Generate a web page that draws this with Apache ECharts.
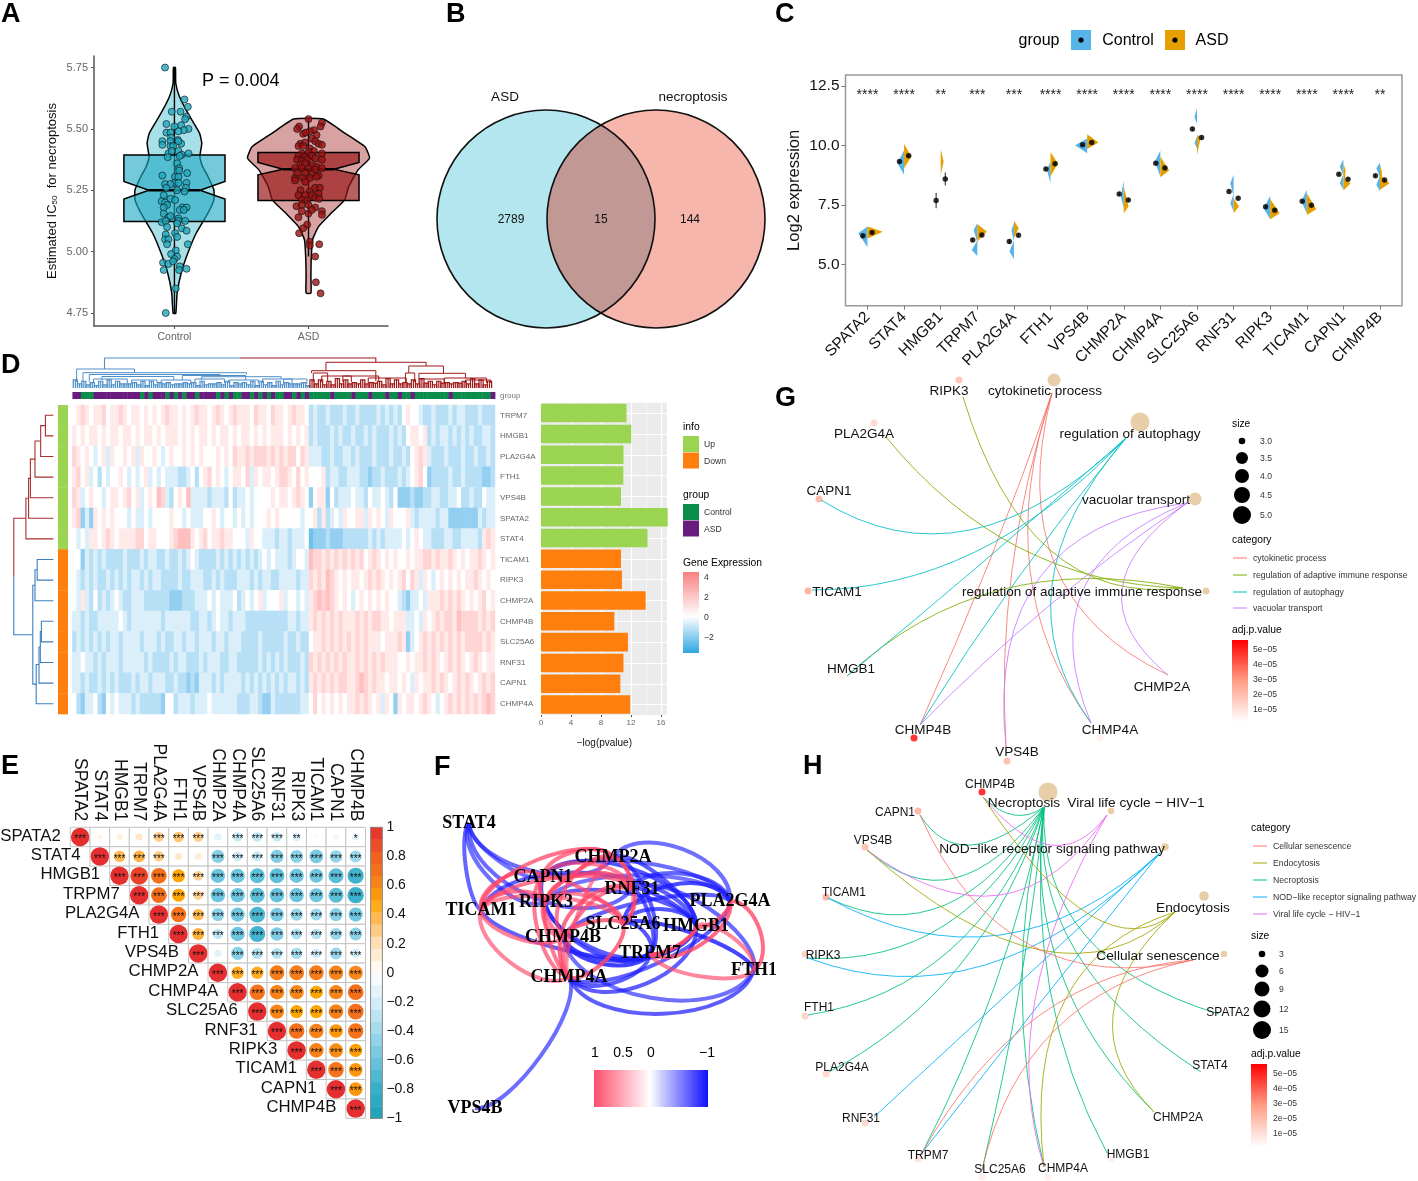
<!DOCTYPE html>
<html><head><meta charset="utf-8">
<style>html,body{margin:0;padding:0;background:#fff}#c{width:1418px;height:1181px}</style>
<script src="https://cdn.jsdelivr.net/npm/echarts@6/dist/echarts.min.js"></script>
</head><body><div id="c"></div>
<script>
// ---------- DATA ----------
const groups = ["Control","ASD"];
const icTicks = [4.75,5,5.25,5.5,5.75];
const controlProfile = [[5.75,.0075],[5.686,.01],[5.632,.037],[5.564,.1],[5.483,.187],[5.442,.204],[5.387,.19],[5.347,.21],[5.306,.25],[5.252,.294],[5.211,.294],[5.157,.25],[5.075,.162],[4.994,.1],[4.912,.05],[4.831,.02],[4.749,.01]];
const asdProfile = [[5.54,.11],[5.483,.27],[5.428,.42],[5.381,.455],[5.333,.37],[5.265,.3],[5.211,.27],[5.157,.17],[5.102,.075],[5.048,.03],[4.966,.02],[4.899,.018],[4.831,.018]];
const controlBox = [5.123,5.214,5.25,5.286,5.394];
const asdBox = [5.208,5.313,5.336,5.363,5.404];
const controlPoints = [[-.07,5.75],[.075,5.62],[.10,5.59],[-.02,5.57],[.045,5.57],[.09,5.55],[.08,5.54],[-.06,5.52],[.05,5.515],[0,5.51],[.105,5.50],[.07,5.495],[.03,5.49],[-.06,5.485],[-.03,5.485],[-.09,5.45],[-.025,5.465],[-.03,5.45],[.025,5.455],[-.09,5.435],[-.03,5.43],[-.01,5.43],[.05,5.44],[.03,5.45],[-.045,5.40],[.03,5.41],[.055,5.395],[.105,5.40],[-.02,5.41],[-.05,5.385],[.04,5.39],[.02,5.36],[.035,5.34],[.035,5.33],[-.09,5.31],[.095,5.32],[.005,5.305],[.03,5.305],[0,5.28],[.03,5.28],[.09,5.28],[-.07,5.275],[-.03,5.275],[.085,5.26],[-.06,5.26],[.02,5.25],[.075,5.245],[-.08,5.23],[-.03,5.215],[.005,5.21],[-.095,5.205],[-.07,5.20],[-.055,5.19],[-.08,5.18],[-.08,5.155],[.06,5.18],[.09,5.18],[.04,5.17],[.07,5.17],[-.045,5.14],[-.03,5.145],[.03,5.135],[-.095,5.12],[-.065,5.125],[.03,5.125],[.08,5.125],[-.055,5.10],[.02,5.115],[.055,5.095],[.09,5.085],[.005,5.075],[-.065,5.07],[-.07,5.05],[-.045,5.05],[.02,5.06],[-.055,5.03],[.10,5.03],[.01,5.005],[-.025,4.99],[.02,4.98],[0,4.97],[-.085,4.955],[-.045,4.95],[-.01,4.96],[-.08,4.925],[.04,4.94],[.09,4.93],[.035,4.925],[.01,4.85],[-.065,4.75]];
const asdPoints = [[0,5.54],[-.07,5.51],[-.085,5.50],[.10,5.525],[.09,5.51],[.04,5.495],[.01,5.49],[-.04,5.48],[-.02,5.485],[.06,5.475],[.025,5.46],[-.06,5.44],[-.025,5.445],[.05,5.45],[.075,5.44],[.10,5.435],[-.075,5.43],[-.04,5.43],[.01,5.42],[.04,5.41],[-.05,5.40],[0,5.405],[-.075,5.39],[-.03,5.385],[.025,5.39],[.10,5.40],[-.085,5.375],[-.05,5.37],[-.01,5.375],[.05,5.38],[.10,5.375],[-.06,5.355],[-.025,5.36],[.025,5.35],[.06,5.345],[-.10,5.34],[-.05,5.34],[0,5.34],[.05,5.335],[.10,5.34],[-.085,5.32],[-.025,5.32],[.025,5.315],[.075,5.31],[-.10,5.30],[-.04,5.30],[.01,5.30],[.06,5.305],[-.10,5.29],[-.025,5.285],[-.06,5.25],[.01,5.245],[.05,5.26],[.085,5.26],[-.075,5.23],[-.025,5.23],[.025,5.23],[.075,5.235],[-.05,5.21],[-.01,5.21],[.05,5.22],[.08,5.215],[-.09,5.185],[-.05,5.19],[0,5.19],[.05,5.18],[.10,5.165],[-.075,5.14],[0,5.155],[-.05,5.165],[.025,5.17],[.10,5.15],[-.01,5.11],[-.04,5.095],[-.07,5.075],[.01,5.04],[.01,5.025],[.08,5.03],[.05,4.98],[.055,4.875],[.09,4.83]];

const vennSets = ["ASD","necroptosis"];
const vennCounts = [2789,15,144];

const genes = ["SPATA2","STAT4","HMGB1","TRPM7","PLA2G4A","FTH1","VPS4B","CHMP2A","CHMP4A","SLC25A6","RNF31","RIPK3","TICAM1","CAPN1","CHMP4B"];
const exprTicks = [5,7.5,10,12.5];
const sigLabels = ["****","****","**","***","***","****","****","****","****","****","****","****","****","****","**"];
const exprControl = [6.21,9.33,7.69,6.04,5.97,9.02,10.03,7.97,9.26,10.69,8.07,7.43,7.66,8.8,8.73];
const exprASD = [6.35,9.57,8.6,6.25,6.24,9.24,10.13,7.72,9.06,10.34,7.79,7.29,7.5,8.59,8.55];
const exprErrControl = [.06,.06,.32,.07,.08,.07,.04,.08,.06,.08,.08,.07,.07,.07,.07];
const exprErrASD = [.06,.06,.27,.07,.08,.06,.04,.07,.06,.08,.07,.06,.06,.06,.06];
const violinControl = [
 [[6.6,0],[6.32,.25],[5.73,0]],[[9.8,0],[9.26,.18],[8.77,0]],[],
 [[6.74,0],[6.46,.1],[6.0,.01],[5.62,.15],[5.37,0]],[[6.74,0],[6.46,.07],[6.0,.005],[5.55,.12],[5.23,0]],
 [[9.33,0],[8.98,.1],[8.42,0]],[[10.3,0],[10.01,.33],[9.68,0]],[[8.53,0],[7.86,.08],[7.37,0]],
 [[9.78,0],[9.33,.15],[8.7,0]],[[11.57,0],[11.2,.07],[10.9,0],[10.38,0],[10.1,.07],[9.9,0]],
 [[8.77,0],[8.42,.09],[7.93,.01],[7.58,.09],[7.23,0]],[[7.89,0],[7.37,.18],[6.91,0]],[[8.14,0],[7.65,.15],[7.16,0]],
 [[9.43,0],[9.12,.1],[8.77,.01],[8.42,.1],[8.14,0]],[[9.29,0],[9.05,.1],[8.7,.01],[8.35,.1],[8.07,0]]];
const violinASD = [
 [[6.6,0],[6.38,.42],[6.1,0]],[[10.07,0],[9.54,.2],[9.05,0]],[[9.85,0],[9.33,.08],[8.77,0]],
 [[6.71,0],[6.39,.26],[6.0,.01],[5.62,0]],[[6.85,0],[6.53,.13],[6.11,0]],
 [[9.72,0],[9.26,.2],[8.7,0]],[[10.47,0],[10.13,.31],[9.85,0]],[[8.28,0],[7.44,.13],[7.16,0]],
 [[9.54,0],[8.95,.24],[8.67,0]],[[10.45,0],[10.31,.1],[9.6,0]],[[7.79,0],[7.44,.15],[7.16,0]],
 [[7.76,0],[7.16,.26],[6.91,0]],[[8.0,0],[7.33,.26],[7.09,0]],[[9.26,0],[8.95,.06],[8.56,.04],[8.42,.2],[8.11,0]],[[9.19,0],[8.9,.05],[8.7,.05],[8.42,.26],[8.14,0]]];

const rowGenes = ["TRPM7","HMGB1","PLA2G4A","FTH1","VPS4B","SPATA2","STAT4","TICAM1","RIPK3","CHMP2A","CHMP4B","SLC25A6","RNF31","CAPN1","CHMP4A"];
const rowInfo = "uuuuuuudddddddd";
const pvalueBars = [11.4,12.04,11.0,10.98,10.67,16.9,14.2,10.67,10.8,13.96,9.78,11.6,11.0,10.58,11.9];
// heatmap: one digit per sample column, 4 = 0 expression, lower = blue, higher = red
const heatRows = [
"4565455645 5654554545 4565545456 5545654565 5546554655 456554 2322322232 2322223232 32 4544 32232223 23322232 22",
"5454554545 5455454554 5455545454 5545455454 5545454555 454545 2322232322 3223232223 232 45545 2323323232 322332",
"6545434535 4454535445 4345445454 5444545465 5656665656 566465 3332232233 2322232223 2232 4565 3222322232 232232",
"5645342434 4543434534 3433322342 4564543455 4635455456 654645 4445233223 3322122322 2323 4564 1222232232 222112",
"6534544345 5456453454 7632454733 3323332423 3434444545 545654 1455142333 4332433432 4111 2112 2332233422 322433",
"5613154545 4443433434 4445443433 3445434434 3434445454 444434 4525234354 4553545435 4445 3233 3323311111 113233",
"4343554565 4555566455 4445677754 5645565544 4354433323 323334 0111211122 2222323233 3343 4543 3222332233 332565",
"4413232322 2232223233 2232232343 2222323232 3232343433 323443 7665656565 6564565454 5445 4556 6565565454 556545",
"4323232232 3232332323 3222232233 3223232223 3323233223 333233 6565765454 5545656545 4564 6535 4345454545 565454",
"4353242323 4322333222 2221112223 3343433342 3434534445 344343 5676765454 3454545454 4321 3343 5556565654 545645",
"3323223333 3432333333 3233333322 3323433233 3222222222 233233 5656565655 5656566554 5553 3435 4565665766 665656",
"2323232323 3233332333 2322332332 3332332333 2222322222 322322 4556565656 5656555455 5651 3456 5656565656 666565",
"3343323233 3233333232 2223233222 3233322332 2222323232 322232 6565656565 5656565655 5445 4556 5654565654 565455",
"3323223232 3222323323 3322322121 3332323333 2323232323 233232 5656565665 5676565545 5454 3545 5656545656 545656",
"4213342143 4333232222 2144233323 3343333332 2233211322 222233 4645454545 5656545354 1545 5456 5434565656 565676"];
const groupStrip = "ppgggppppp ppppppgpgp ppgpgpgppg ppppgpgpgg ppgpgpgpgg ppgpgp gggggpgggg pgggpgggpg gpggpggggg gggpgggggg gggp";
const leafHeights = "6554435464 5535445354 4544354543 5435445345 4453544354 453543 6564547565 4565465475 6545657654 5645465575 6454";
// top dendrogram merges: colA, colB, height, lowA, lowB
const topBlue = [[1,14.7,19,6,15.3],[2.5,41.2,15.3,7,13.5],[4,35,13.5,6,11.5],[7,24,11.5,8,8],[26,41,12.5,8,8],[30.6,49.4,11.3,8,9],[5,13,9,5,5],[14,20,8,5,5],[21,28,8,5,5],[29,36,9,5,5],[37,44,8,5,5],[45,52,9,5,5],[50,55.5,9,4,4]];
const topRed = [[60,83.7,25.7,18,22],[56.6,71.8,17.3,15,7],[79.6,87.8,22,15,14.7],[78.8,81,15,6,6],[82,93,14.7,9,10],[57,60.4,15,6,6],[59,66,12,6,6],[64,72.5,12,6,6],[70,79,10,5,6],[82,88,9,5,5],[88,98,10,5,5],[93,99,8,5,5]];
// left dendrogram merges: height, rowA, rowB, lowA, lowB
const leftRed = [[8,0,1,0,0],[12.7,.5,2,8,0],[18.4,1.25,3,12.7,0],[23,2.125,4,18.4,0],[24.8,3.06,5,23,0],[27.5,4.03,6,24.8,0]];
const leftBlue = [[16.2,7,8,0,0],[18.4,7.5,9,16.2,0],[12,10,11,0,0],[13.1,10.5,12,12,0],[14.4,11.25,13,13.1,0],[17.2,12.1,14,14.4,0],[20.6,8.25,13.05,18.4,17.2]];
const leftRoot = [39.6,5.0,10.65,27.5,20.6];

const corrRows = [
[1,.08,.1,.15,.28,.32,.28,-.15,-.26,-.27,-.26,-.2,-.05,-.08,-.14],
[1,.38,.4,.3,.15,.12,-.5,-.25,-.27,-.52,-.48,-.55,-.46,-.42],
[1,.92,.72,.5,.27,-.6,-.6,-.65,-.65,-.6,-.58,-.66,-.76],
[1,.72,.5,.27,-.6,-.6,-.65,-.62,-.6,-.58,-.66,-.78],
[1,.7,.38,-.48,-.58,-.72,-.55,-.45,-.42,-.5,-.58],
[1,.42,-.3,-.6,-.75,-.52,-.35,-.33,-.43,-.48],
[1,-.15,-.5,-.35,-.33,-.38,-.25,-.42,-.23],
[1,.45,.45,.65,.65,.65,.62,.6],
[1,.7,.62,.6,.5,.6,.72],
[1,.6,.5,.5,.62,.72],
[1,.72,.62,.55,.7],
[1,.62,.58,.52],
[1,.7,.55],
[1,.55],
[1]];
const corrStarExceptions = {"0-1":"","0-2":"","0-3":"","0-7":"","0-12":"","0-13":"","0-11":"**","0-14":"*","1-5":"","1-6":"","6-7":""};

const netNames = ["STAT4","CHMP2A","CAPN1","RNF31","PLA2G4A","TICAM1","RIPK3","SLC25A6","HMGB1","CHMP4B","TRPM7","CHMP4A","FTH1","VPS4B"];
const netX = [469,613,543,632,730,481,546,623,696,563,650,569,754,475];
const netY = [823,857,877,889,901,910,902,924,926,937,953,977,970,1108];
const netThreshold = .45;

// enrichment networks: name, dotX, dotY, labelX, labelY, adj.p (1e-5), endX, endY
const gGenes = [["RIPK3",959,380,949,390,2.0,963,397],["PLA2G4A",874,423,864,433,1.3,886,437],["CAPN1",819,499,829,490,2.4,821,500],["TICAM1",808,591,837,591,2.6,812,590],["HMGB1",842,676,851,668,.5,847,676],["CHMP4B",914,738,923,729,5.5,920,725],["VPS4B",1007,761,1017,751,2.2,1006,747],["CHMP4A",1100,738,1110,729,.5,1091,723],["CHMP2A",1170,675,1162,686,0,1168,675]];
// name, dotX, dotY, labelX, labelY, size, endX, endY
const gTerms = [["cytokinetic process",1054,380,1045,390,4,1052,393],["regulation of adaptive immune response",1206,591,1082,591,3,1183,588],["regulation of autophagy",1140,422,1130,433,5,1126,438],["vacuolar transport",1195,499,1136,499,4,1187,503]];
const gEdges = [[0,5,990,560],[0,6,1012,570],[0,7,1030,570],[0,8,1055,565],[1,0,1050,550],[1,1,1020,548],[1,4,1000,590],[2,2,970,530],[2,3,975,552],[2,4,983,562],[2,5,1018,578],[2,7,1052,585],[3,6,1040,577],[3,5,1050,605],[3,7,1083,590],[3,8,1122,590]];
const hGenes = [["CHMP4B",982,792,990,784,5.5,983,797],["CAPN1",918,811,895,812,2.4,920,815],["VPS4B",865,847,873,840,2.2,867,850],["TICAM1",826,897,844,892,2.6,828,898],["RIPK3",805,954,823,955,1.6,808,958],["FTH1",805,1016,819,1007,1.5,808,1015],["PLA2G4A",826,1074,842,1067,1.3,829,1072],["RNF31",865,1123,861,1118,1.4,874,1117],["TRPM7",918,1159,928,1155,1,922,1153],["SLC25A6",982,1177,1000,1169,.6,982,1170],["CHMP4A",1048,1177,1063,1168,.5,1044,1167],["HMGB1",1111,1159,1128,1154,.5,1107,1153],["CHMP2A",1154,1112,1178,1117,0,1154,1112],["STAT4",1201,1072,1210,1065,0,1201,1072],["SPATA2",1219,1014,1228,1012,0,1219,1014]];
const hTerms = [["Necroptosis",1048,792,1024,802,15,1044,807],["Viral life cycle \u2212 HIV\u22121",1111,811,1136,802,3,1107,815],["NOD\u2212like receptor signaling pathway",1165,847,1052,848,4,1160,853],["Endocytosis",1204,896,1193,907,6,1175,912],["Cellular senescence",1224,954,1158,955,3,1193,960]];
const hEdges = [[0,0,1014,815],[0,1,971,845],[0,2,955,878],[0,3,945,905],[0,4,945,925],[0,5,950,950],[0,6,960,965],[0,8,995,985],[0,9,1020,985],[0,10,1022,985],[0,11,1050,990],[0,12,1060,970],[0,13,1075,950],[0,14,1085,935],
[2,3,1000,935],[2,4,985,965],[2,7,1017,985],[2,8,1040,1003],[1,0,1050,845],[1,2,1000,895],[1,10,1035,1000],
[3,0,1090,915],[3,2,1040,950],[3,10,1065,1000],[3,12,1113,1015],[4,1,1030,945],[4,8,1040,1015],[4,9,1055,1030]];
const gTermColors = ["#F8766D","#7CAE00","#00BFC4","#C77CFF"];
const hTermColors = ["#00BF7D","#E76BF3","#00B0F6","#A3A500","#F8766D"];

// ---------- HELPERS ----------
const SANS = '"Liberation Sans",Arial,sans-serif', SERIF = '"Liberation Serif","Times New Roman",serif';
const grids=[], xAxes=[], yAxes=[], series=[], gfx=[];
const hidden=(min,max,inverse)=>({type:'value',min,max,inverse:!!inverse,show:false});
function addGrid(left,top,width,height,xa,ya,extra){
  const gridIndex=grids.length;
  grids.push(Object.assign({left,top,width,height,containLabel:false},extra||{}));
  xa.gridIndex=gridIndex; ya.gridIndex=gridIndex; xAxes.push(xa); yAxes.push(ya);
  return gridIndex;
}
function custom(g,items,draw,z){
  series.push({type:'custom',coordinateSystem:'cartesian2d',xAxisIndex:g,yAxisIndex:g,clip:false,silent:true,z:z||2,
    animation:false,progressive:0,data:items.map((_,i)=>[i,0]),
    renderItem:(p,api)=>draw(items[p.dataIndex],p.dataIndex,v=>api.coord(v),api)});
}
const clean=s=>s.replace(/\s+/g,'');
function lerpColor(stops,t){
  t=Math.max(stops[0][0],Math.min(stops[stops.length-1][0],t));
  for(let i=1;i<stops.length;i++){ if(t<=stops[i][0]){
    const a=stops[i-1],b=stops[i],u=(t-a[0])/(b[0]-a[0]);
    const ha=parseInt(a[1].slice(1),16),hb=parseInt(b[1].slice(1),16);
    const ch=s=>Math.round(((ha>>s)&255)*(1-u)+((hb>>s)&255)*u);
    return 'rgb('+ch(16)+','+ch(8)+','+ch(0)+')';
  }}
  return stops[stops.length-1][1];
}
const txt=(text,x,y,size,o)=>{o=o||{};gfx.push({type:'text',silent:true,z:100,
  style:{text,x,y:y+1,fontSize:size,fontFamily:o.family||SANS,fontWeight:o.weight||'normal',fill:o.color||'#000',align:o.align||'left',verticalAlign:'middle'}});};
const rect=(x,y,w,h,fill)=>gfx.push({type:'rect',silent:true,z:99,shape:{x,y,width:w,height:h},style:{fill}});
const dot=(x,y,r,fill)=>gfx.push({type:'circle',silent:true,z:100,shape:{cx:x,cy:y,r},style:{fill}});
const seg=(x1,y1,x2,y2,c,w)=>gfx.push({type:'line',silent:true,z:99,shape:{x1,y1,x2,y2},style:{stroke:c,lineWidth:w||1}});
const grad=(x0,y0,x1,y1,st)=>new echarts.graphic.LinearGradient(x0,y0,x1,y1,st.map(s=>({offset:s[0],color:s[1]})));

// layout grid for node-link panels and the Venn diagram (layout units, no axis)
const L=addGrid(0,0,1418,1181,hidden(0,1418),hidden(0,1181,true));

// ---------- PANEL LETTERS ----------
[["A",1,14],["B",446,14],["C",775,14],["D",1,365],["E",1,766],["F",434,767],["G",775,398],["H",803,766]].forEach(a=>txt(a[0],a[1],a[2],27,{weight:'bold'}));

// ---------- PANEL A ----------
const axisA={color:'#555',width:1.5};
const A=addGrid(94,56,294,270,
 {type:'value',min:.4,max:2.593,splitLine:{show:false},axisLine:{show:true,onZero:false,lineStyle:axisA},
  axisTick:{show:true,customValues:[1,2],lineStyle:{color:'#555'},length:3},
  axisLabel:{customValues:[1,2],formatter:v=>groups[v-1],fontSize:10.5,color:'#666',fontFamily:SANS,margin:6}},
 {type:'value',min:4.697,max:5.797,splitLine:{show:false},axisLine:{show:true,onZero:false,lineStyle:axisA},
  axisTick:{show:true,customValues:icTicks,lineStyle:{color:'#555'},length:3},
  axisLabel:{customValues:icTicks,formatter:v=>v.toFixed(2),fontSize:11,color:'#666',fontFamily:SANS,margin:6},
  name:'{a|Estimated IC}{s|50}{a|  for necroptosis}',nameLocation:'middle',nameRotate:90,nameGap:35,
  nameTextStyle:{rich:{a:{fontSize:13,fontFamily:SANS,color:'#111'},s:{fontSize:8,fontFamily:SANS,color:'#111',verticalAlign:'bottom',padding:[0,0,0,0]}}}});
custom(A,[{c:1,p:controlProfile,fill:'#A8E0E9'},{c:2,p:asdProfile,fill:'#D9A2A2'}],(it,i,co)=>{
  const pts=it.p.map(q=>co([it.c+q[1],q[0]])).concat(it.p.slice().reverse().map(q=>co([it.c-q[1],q[0]])));
  return {type:'polygon',shape:{points:pts,smooth:.15},style:{fill:it.fill,stroke:'#000',lineWidth:1.5}};
},2);
custom(A,[{c:1,b:controlBox,fill:'rgba(30,170,195,.62)'},{c:2,b:asdBox,fill:'rgba(150,20,20,.68)'}],(it,i,co)=>{
  const [q1,nl,m,nh,q3]=it.b,c=it.c,w=.377,n=.19;
  const poly=[[c-w,q3],[c+w,q3],[c+w,nh],[c+n,m],[c+w,nl],[c+w,q1],[c-w,q1],[c-w,nl],[c-n,m],[c-w,nh]].map(co);
  const a=co([c-n,m]),b=co([c+n,m]);
  const top=co([c,it.c===1?5.75:5.54]),bot=co([c,it.c===1?4.75:4.98]);
  return {type:'group',children:[
    {type:'line',shape:{x1:top[0],y1:top[1],x2:bot[0],y2:bot[1]},style:{stroke:'#000',lineWidth:1.4}},
    {type:'polygon',shape:{points:poly},style:{fill:it.fill,stroke:'#000',lineWidth:1.5}},
    {type:'line',shape:{x1:a[0],y1:a[1],x2:b[0],y2:b[1]},style:{stroke:'#000',lineWidth:2.5}}]};
},3);
const pointStyle=c=>({color:c,borderColor:'#111',borderWidth:.8});
series.push({type:'scatter',xAxisIndex:A,yAxisIndex:A,z:5,symbolSize:7,silent:true,itemStyle:pointStyle('#1FA8BE'),data:controlPoints.map(p=>[1+p[0],p[1]])});
series.push({type:'scatter',xAxisIndex:A,yAxisIndex:A,z:5,symbolSize:7,silent:true,itemStyle:pointStyle('#9B1010'),data:asdPoints.map(p=>[2+p[0],p[1]])});
txt("P = 0.004",202,80,18);

// ---------- PANEL B ----------
custom(L,[{c:[546,219],f:'#B3E6EE'},{c:[656,219],f:'#F6B6AC'}],(it,i,co)=>{
  const a=co(it.c),r=109;return {type:'circle',shape:{cx:a[0],cy:a[1],r},style:{fill:it.f}};
},2);
custom(L,[0],(it,i,co)=>{
  const a=co([546,219]),b=co([656,219]),r=109,d=(b[0]-a[0])/2,ang=Math.acos(d/r),pts=[];
  for(let k=0;k<=40;k++){const t=-ang+2*ang*k/40;pts.push([a[0]+r*Math.cos(t),a[1]+r*Math.sin(t)]);}
  for(let k=0;k<=40;k++){const t=Math.PI-ang+2*ang*k/40;pts.push([b[0]+r*Math.cos(t),b[1]+r*Math.sin(t)]);}
  return {type:'polygon',shape:{points:pts},style:{fill:'#C19893'}};
},3);
custom(L,[[546,219],[656,219]],(it,i,co)=>{const a=co(it);return {type:'circle',shape:{cx:a[0],cy:a[1],r:109},style:{fill:'none',stroke:'#111',lineWidth:1.6}};},4);
custom(L,[[505,97],[693,97]],(it,i,co)=>{const a=co(it);return {type:'text',style:{text:vennSets[i],x:a[0],y:a[1],fontSize:13.5,fontFamily:SANS,fill:'#111',align:'center',verticalAlign:'middle'}};},5);
custom(L,[[511,220],[601,220],[690,220]],(it,i,co)=>{const a=co(it);return {type:'text',style:{text:String(vennCounts[i]),x:a[0],y:a[1],fontSize:12,fontFamily:SANS,fill:'#111',align:'center',verticalAlign:'middle'}};},5);

// ---------- PANEL C ----------
const geneTicks=genes.map((_,i)=>i+1);
const C=addGrid(845.5,75,556.5,230.7,
 {type:'value',min:.4,max:15.6,splitLine:{show:false},axisLine:{show:false},
  axisTick:{show:true,customValues:geneTicks,lineStyle:{color:'#777'},length:4},
  axisLabel:{customValues:geneTicks,formatter:v=>genes[v-1],rotate:45,fontSize:15.5,color:'#111',fontFamily:SANS,margin:9}},
 {type:'value',min:3.28,max:12.96,splitLine:{show:false},axisLine:{show:false},
  axisTick:{show:true,customValues:exprTicks,lineStyle:{color:'#777'},length:4},
  axisLabel:{customValues:exprTicks,formatter:v=>v.toFixed(1),fontSize:15.5,color:'#111',fontFamily:SANS,margin:6},
  name:'Log2 expression',nameLocation:'middle',nameRotate:90,nameGap:43,nameTextStyle:{fontSize:16.5,fontFamily:SANS,color:'#111'}},
 {show:true,borderColor:'#999',borderWidth:1.5,backgroundColor:'#fff'});
const halves=[];
genes.forEach((g,i)=>{ if(violinControl[i].length) halves.push({x:i+1,s:-1,p:violinControl[i],f:'#56B4E9'}); halves.push({x:i+1,s:1,p:violinASD[i],f:'#E69F00'}); });
custom(C,halves,(it,i,co)=>({type:'polygon',shape:{points:it.p.map(q=>co([it.x+it.s*q[1],q[0]]))},style:{fill:it.f}}),3);
const errs=[];genes.forEach((g,i)=>{errs.push([i+1-.125,exprControl[i],exprErrControl[i]]);errs.push([i+1+.125,exprASD[i],exprErrASD[i]]);});
custom(C,errs,(it,i,co)=>{const a=co([it[0],it[1]+it[2]]),b=co([it[0],it[1]-it[2]]);return {type:'line',shape:{x1:a[0],y1:a[1],x2:b[0],y2:b[1]},style:{stroke:'#222',lineWidth:1}};},4);
series.push({type:'scatter',xAxisIndex:C,yAxisIndex:C,z:5,symbolSize:5.5,silent:true,itemStyle:{color:'#000'},data:errs.map(e=>[e[0],e[1]])});
custom(C,sigLabels,(it,i,co)=>{const a=co([i+1,12.1]);return {type:'text',style:{text:it,x:a[0],y:a[1],fontSize:14,fontFamily:SANS,fill:'#222',align:'center',verticalAlign:'middle'}};},5);
txt("group",1039,40,16,{align:'center'});
rect(1071,30,20,20,'#56B4E9');dot(1081,40,2.6,'#000');txt("Control",1128,40,16,{align:'center'});
rect(1165,30,20,20,'#E69F00');dot(1175,40,2.6,'#000');txt("ASD",1212,40,16,{align:'center'});

// ---------- PANEL D ----------
const heatCols=heatRows.map(clean), NC=heatCols[0].length, colCats=Array.from({length:NC},(_,i)=>String(i));
const H=addGrid(72.4,405,422.6,309,{type:'category',data:colCats,show:false},
 {type:'category',data:rowGenes,inverse:true,axisLine:{show:false},axisTick:{show:false},position:'right',
  axisLabel:{fontSize:8,color:'#666',fontFamily:SANS,margin:5,interval:0}});
const hmData=[];heatCols.forEach((s,r)=>{for(let c=0;c<s.length;c++)hmData.push([c,r,(+s[c]-4)*.72]);});
series.push({type:'heatmap',xAxisIndex:H,yAxisIndex:H,data:hmData,silent:true,z:2,progressive:0,emphasis:{disabled:true}});
const heatIdx=series.length-1;
const GS=addGrid(72.4,392,422.6,7,{type:'category',data:colCats,show:false},
 {type:'category',data:["group"],position:'right',axisLine:{show:false},axisTick:{show:false},axisLabel:{fontSize:8,color:'#777',fontFamily:SANS,margin:5}});
custom(GS,clean(groupStrip).split(''),(it,i,co,api)=>{const a=co([i,0]),s=api.size([1,1]);return {type:'rect',shape:{x:a[0]-s[0]/2,y:a[1]-s[1]/2,width:s[0]+.4,height:s[1]},style:{fill:it==='g'?'#0A8C4A':'#6A1B7E'}};},2);
const AN=addGrid(58,405,10,309,{type:'category',data:["info"],show:false},{type:'category',data:rowGenes,inverse:true,show:false});
custom(AN,rowInfo.split(''),(it,i,co,api)=>{const a=co([0,i]),s=api.size([1,1]);return {type:'rect',shape:{x:a[0]-s[0]/2,y:a[1]-s[1]/2,width:s[0],height:s[1]+.3},style:{fill:it==='u'?'#9BD450':'#FF7F0E'}};},2);
// top dendrogram
const TD=addGrid(72.4,358,422.6,30,hidden(0,NC),hidden(0,30));
const topLeaves=clean(leafHeights).split('').map(Number);
custom(TD,topLeaves.map((h,i)=>[i,h]).filter(q=>q[0]<NC-1),(it,i,co)=>{
  const a=it[0]+.2,b=it[0]+1.2,h=1.35*it[1]*(it[0]%2?.6:1),c=it[0]<56?'#4F8FC9':'#A01818';
  const m=(a+b)/2;
  return {type:'polyline',shape:{points:[[a,0],[a,h],[m,h],[m,0],[m,h],[b,h],[b,0]].map(co)},style:{stroke:c,lineWidth:1.2,fill:'none'}};
},2);
const drawU=c=>(it,i,co)=>({type:'polyline',shape:{points:[[it[0],it[3]],[it[0],it[2]],[it[1],it[2]],[it[1],it[4]]].map(co)},style:{stroke:c,lineWidth:1,fill:'none'}});
custom(TD,topBlue,drawU('#4F8FC9'),3);custom(TD,topRed,drawU('#A01818'),3);
custom(TD,[[[7.6,19],[7.6,30],[39.7,30]],[[39.7,30],[71.8,30],[71.8,25.7]]],(it,i,co)=>({type:'polyline',shape:{points:it.map(co)},style:{stroke:i?'#A01818':'#4F8FC9',lineWidth:1.1,fill:'none'}}),3);
// left dendrogram
const LD=addGrid(13.4,405,40,309,{type:'value',min:0,max:40,inverse:true,show:false},hidden(-.5,14.5,true));
const drawL=c=>(it,i,co)=>({type:'polyline',shape:{points:[[it[3],it[1]],[it[0],it[1]],[it[0],it[2]],[it[4],it[2]]].map(co)},style:{stroke:c,lineWidth:1.1,fill:'none'}});
custom(LD,leftRed,drawL('#A83030'),3);custom(LD,leftBlue,drawL('#3C7FBF'),3);
custom(LD,[[[leftRoot[3],leftRoot[1]],[leftRoot[0],leftRoot[1]],[leftRoot[0],(leftRoot[1]+leftRoot[2])/2]],[[leftRoot[0],(leftRoot[1]+leftRoot[2])/2],[leftRoot[0],leftRoot[2]],[leftRoot[4],leftRoot[2]]]],
 (it,i,co)=>({type:'polyline',shape:{points:it.map(co)},style:{stroke:i?'#3C7FBF':'#A83030',lineWidth:1.1,fill:'none'}}),3);
// bars
const BR=addGrid(541,402.7,126.7,312.3,
 {type:'value',min:0,max:16.9,interval:4,axisLine:{show:false},minorTick:{show:false,splitNumber:2},
  minorSplitLine:{show:true,lineStyle:{color:'#fff',width:.5}},splitLine:{show:true,lineStyle:{color:'#fff',width:1.2}},
  axisTick:{show:true,length:2,lineStyle:{color:'#555'}},axisLabel:{fontSize:8,color:'#666',fontFamily:SANS,margin:4,showMaxLabel:false},
  name:'\u2212log(pvalue)',nameLocation:'middle',nameGap:23,nameTextStyle:{fontSize:10,fontFamily:SANS,color:'#111'}},
 {type:'category',data:rowGenes,inverse:true,show:true,axisLine:{show:false},axisTick:{show:false,alignWithLabel:true},axisLabel:{show:false},
  splitLine:{show:true,alignWithLabel:true,interval:0,lineStyle:{color:'#fff',width:1.2}}},
 {show:true,backgroundColor:'#EBEBEB',borderWidth:0});
series.push({type:'bar',xAxisIndex:BR,yAxisIndex:BR,silent:true,z:3,barWidth:'89%',data:pvalueBars.map((v,i)=>({value:v,itemStyle:{color:rowInfo[i]==='u'?'#9BD450':'#FF7F0E'}}))});
const LT=10.3, LS=8.6;
txt("info",683,426,LT);rect(683,436,16,16,'#9BD450');rect(683,452.5,16,16,'#FF7F0E');txt("Up",704,444,LS,{color:'#333'});txt("Down",704,460.5,LS,{color:'#333'});
txt("group",683,494,LT);rect(683,504,16,16,'#0A8C4A');rect(683,520.5,16,16,'#6A1B7E');txt("Control",704,512,LS,{color:'#333'});txt("ASD",704,528.5,LS,{color:'#333'});
txt("Gene Expression",683,562,LT);
rect(683,572,16,81,grad(0,0,0,1,[[0,'#FA7F7F'],[.55,'#FFFFFF'],[1,'#2EA6E0']]));
[["4",577],["2",597],["0",617],["\u22122",637]].forEach(a=>txt(a[0],704,a[1],LS,{color:'#333'}));

// ---------- PANEL E ----------
const corr=(i,j)=>{const a=Math.min(i,j),b=Math.max(i,j);return corrRows[a][b-a];};
const corrStops=[[-1,'#1BA3B8'],[-.8,'#36AEC8'],[-.6,'#6CC4DE'],[-.4,'#A0D9EC'],[-.2,'#D5EEF8'],[0,'#FFFFFF'],[.2,'#FFE0B8'],[.4,'#FFB347'],[.5,'#FFA500'],[.6,'#F8861A'],[.8,'#F15F1E'],[1,'#E42E30']];
const E=addGrid(70.3,827.3,295.2,291,
 {type:'category',data:genes,position:'top',axisLine:{show:false},axisTick:{show:false},axisLabel:{rotate:90,interval:0,fontSize:17.5,color:'#111',fontFamily:SANS,margin:6}},
 {type:'category',data:genes,inverse:true,show:false});
const cells=[];genes.forEach((g,i)=>genes.forEach((h,j)=>{if(j>=i)cells.push([i,j,corr(i,j)]);}));
custom(E,cells,(it,k,co,api)=>{
  const a=co([it[1],it[0]]),s=api.size([1,1]),r=it[2],d=18.5*Math.sqrt(Math.abs(r));
  const key=it[0]+'-'+it[1],st=(key in corrStarExceptions)?corrStarExceptions[key]:'***';
  return {type:'group',children:[
    {type:'rect',shape:{x:a[0]-s[0]/2,y:a[1]-s[1]/2,width:s[0],height:s[1]},style:{fill:'#fff',stroke:'#C4C4C4',lineWidth:1}},
    {type:'circle',shape:{cx:a[0],cy:a[1],r:d/2},style:{fill:lerpColor(corrStops,r)}},
    {type:'text',style:{text:st,x:a[0],y:a[1]+2.5,fontSize:10,fontFamily:SANS,fill:'#111',align:'center',verticalAlign:'middle'}}]};
},3);
custom(E,genes,(g,i,co,api)=>{const a=co([i,i]),s=api.size([1,1]);
  return {type:'text',style:{text:g,x:a[0]-s[0]/2-9.5,y:a[1]-1,fontSize:16.8,fontFamily:SANS,fill:'#111',align:'right',verticalAlign:'middle'}};},4);
const CB=addGrid(370.6,827.3,11.8,291,hidden(0,1),
 {type:'value',min:-1,max:1,interval:.2,position:'right',splitLine:{show:false},axisLine:{show:false},
  axisTick:{show:true,length:3,lineStyle:{color:'#111'}},
  axisLabel:{fontSize:14,color:'#111',fontFamily:SANS,margin:4,formatter:v=>String(Math.round(v*10)/10).replace('-','\u2212')}});
const cbSteps=Array.from({length:24},(_,i)=>-1+i/12);
custom(CB,cbSteps,(v,i,co)=>{const a=co([0,v+1/12]),b=co([1,v]);return {type:'rect',shape:{x:a[0],y:a[1],width:b[0]-a[0],height:b[1]-a[1]+.4},style:{fill:lerpColor(corrStops,v+1/24)}};},2);
custom(CB,[0],(v,i,co)=>{const a=co([0,1]),b=co([1,-1]);return {type:'rect',shape:{x:a[0],y:a[1],width:b[0]-a[0],height:b[1]-a[1]},style:{fill:'none',stroke:'#888',lineWidth:1}};},3);

// ---------- PANEL F ----------
const netEdges=[];
netNames.forEach((a,i)=>netNames.forEach((b,j)=>{ if(j>i){const r=corr(genes.indexOf(a),genes.indexOf(b)); if(Math.abs(r)>=netThreshold) netEdges.push([i,j,r]);}}));
netEdges.sort((p,q)=>(p[2]>0)-(q[2]>0));
custom(L,netEdges,(e,k,co)=>{
  const A0=[netX[e[0]],netY[e[0]]],B0=[netX[e[1]],netY[e[1]]];
  const dx=B0[0]-A0[0],dy=B0[1]-A0[1],len=Math.hypot(dx,dy);
  let nx=-dy/len,ny=dx/len;const mx=(A0[0]+B0[0])/2,my=(A0[1]+B0[1])/2;
  const outer=netNames[e[0]]==='STAT4'||netNames[e[1]]==='VPS4B';
  if(outer?ny<0:(mx-620)*nx+(my-925)*ny<0){nx=-nx;ny=-ny;}
  const kk=Math.min(60,(.14+.05*((e[0]*7+e[1]*3)%5))*len);
  const c1=co([A0[0]+dx*.1+nx*kk,A0[1]+dy*.1+ny*kk]),c2=co([B0[0]-dx*.1+nx*kk,B0[1]-dy*.1+ny*kk]),p=co(A0),q=co(B0);
  const al=.3+.7*Math.abs(e[2]);
  return {type:'bezierCurve',shape:{x1:p[0],y1:p[1],x2:q[0],y2:q[1],cpx1:c1[0],cpy1:c1[1],cpx2:c2[0],cpy2:c2[1]},
    style:{fill:'none',stroke:e[2]>0?'rgba(255,70,105,'+al+')':'rgba(30,30,255,'+al+')',lineWidth:4}};
},6);
custom(L,netNames,(n,i,co)=>{const a=co([netX[i],netY[i]]);return {type:'text',style:{text:n,x:a[0],y:a[1],fontSize:18,fontWeight:'bold',fontFamily:SERIF,fill:'#000',align:'center',verticalAlign:'middle'}};},7);
rect(594,1070,114,37,grad(0,0,1,0,[[0,'#FF4D6D'],[.49,'#FFFFFF'],[1,'#1010FF']]));
[["1",595],["0.5",623],["0",651],["\u22121",707]].forEach(a=>txt(a[0],a[1],1052,14,{align:'center'}));

// ---------- PANELS G & H ----------
const padjStops=[[0,'#FFFFFF'],[.5,'#FF9E85'],[1,'#FF0000']];
const termColor='#E2C292';
function network(genesN,termsN,edgesN,colors,termDia,labelG,labelT){
  custom(L,edgesN,(e,k,co)=>{
    const t=termsN[e[0]],g=genesN[e[1]],p=co([t[6],t[7]]),q=co([g[6],g[7]]),m=co([e[2],e[3]]);
    return {type:'bezierCurve',shape:{x1:p[0],y1:p[1],x2:q[0],y2:q[1],cpx1:2*m[0]-(p[0]+q[0])/2,cpy1:2*m[1]-(p[1]+q[1])/2},
      style:{fill:'none',stroke:colors[e[0]],lineWidth:1,opacity:.85}};
  },4);
  series.push({type:'scatter',xAxisIndex:L,yAxisIndex:L,z:3,silent:true,symbolSize:7,
    data:genesN.filter(g=>g[5]>0).map(g=>({value:[g[1],g[2]],itemStyle:{color:lerpColor(padjStops,g[5]/5.5)}}))});
  series.push({type:'scatter',xAxisIndex:L,yAxisIndex:L,z:3,silent:true,
    data:termsN.map(t=>({value:[t[1],t[2]],symbolSize:termDia(t[5]),itemStyle:{color:termColor}}))});
  custom(L,genesN,(g,i,co)=>{const a=co([g[3],g[4]]);return {type:'text',style:{text:g[0],x:a[0],y:a[1]+1,fontSize:labelG,fontFamily:SANS,fill:'#111',align:'center',verticalAlign:'middle'}};},5);
  custom(L,termsN,(g,i,co)=>{const a=co([g[3],g[4]]);return {type:'text',style:{text:g[0],x:a[0],y:a[1]+1,fontSize:labelT,fontFamily:SANS,fill:'#111',align:'center',verticalAlign:'middle'}};},5);
}
network(gGenes,gTerms,gEdges,gTermColors,s=>7+(s-3)*6,13.5,13.5);
network(hGenes,hTerms,hEdges,hTermColors,s=>6.5+(s-3)*1.05,12,13.7);
const pGrad=()=>grad(0,1,0,0,[[0,'#FFFFFF'],[.5,'#FF9E85'],[1,'#FF0000']]);
const pLabels=["5e\u221205","4e\u221205","3e\u221205","2e\u221205","1e\u221205"];
// legend G
txt("size",1232,423,LT);
[["3.0",441,3.3],["3.5",458,6],["4.0",476,7],["4.5",495,8],["5.0",515,9]].forEach(a=>{dot(1242,a[1],a[2],'#000');txt(a[0],1260,a[1],LS,{color:'#333'});});
txt("category",1232,539,LT);
["cytokinetic process","regulation of adaptive immune response","regulation of autophagy","vacuolar transport"].forEach((t,i)=>{const y=[558,575,592,608][i];seg(1233,y,1247,y,gTermColors[i]);txt(t,1253,y,8.7,{color:'#333'});});
txt("adj.p.value",1232,629,LT);rect(1232,640,16,82,pGrad());
pLabels.forEach((t,i)=>txt(t,1253,649+15*i,LS,{color:'#333'}));
// legend H
txt("category",1251,827,LT);
[["Cellular senescence",4],["Endocytosis",3],["Necroptosis",0],["NOD\u2212like receptor signaling pathway",2],["Viral life cycle \u2212 HIV\u22121",1]].forEach((t,i)=>{const y=846+17*i;seg(1253,y,1267,y,hTermColors[t[1]]);txt(t[0],1273,y,8.7,{color:'#333'});});
txt("size",1251,935,LT);
[["3",954,3.3],["6",971,6.5],["9",989,7.5],["12",1009,8.5],["15",1030,9]].forEach(a=>{dot(1262,a[1],a[2],'#000');txt(a[0],1279,a[1],LS,{color:'#333'});});
txt("adj.p.value",1251,1053,LT);rect(1251,1064,16,83,pGrad());
pLabels.forEach((t,i)=>txt(t,1273,1073+15*i,LS,{color:'#333'}));

// ---------- CHART ----------
const chart=echarts.init(document.getElementById('c'),null,{renderer:'canvas',width:1418,height:1181});
chart.setOption({animation:false,backgroundColor:'#fff',textStyle:{fontFamily:SANS},
  grid:grids,xAxis:xAxes,yAxis:yAxes,series,
  visualMap:[{show:false,seriesIndex:heatIdx,dimension:2,min:-4.5,max:4.5,inRange:{color:['#1D9BE0','#FFFFFF','#FF7A78']}}],
  graphic:{elements:gfx}});
</script></body></html>
